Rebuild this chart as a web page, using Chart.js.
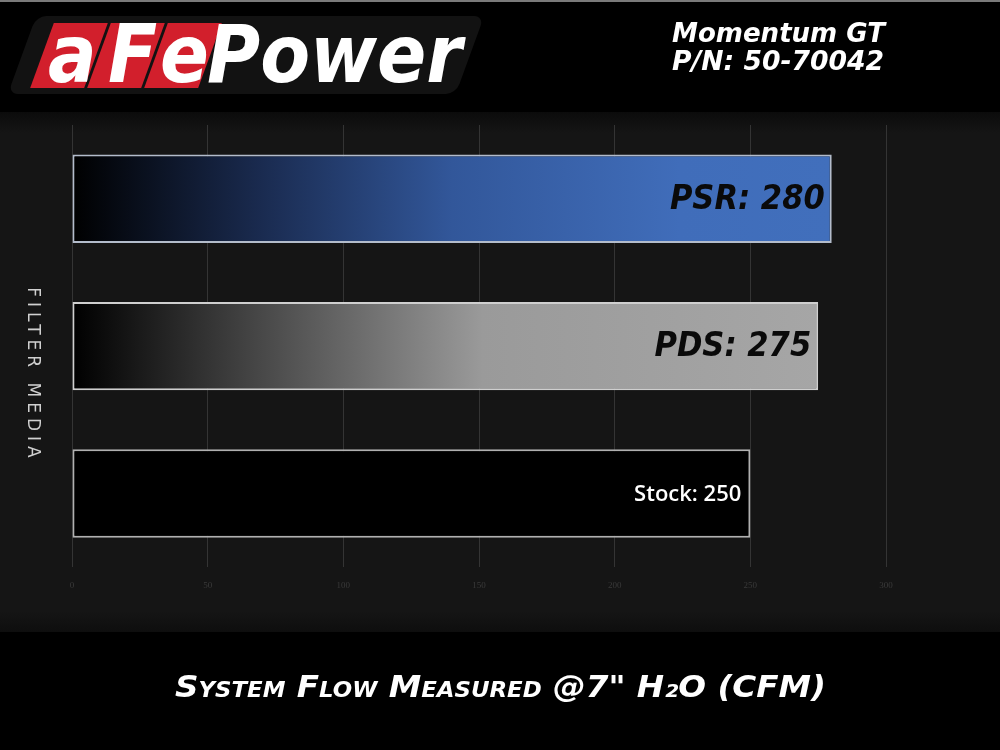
<!DOCTYPE html>
<html>
<head>
<meta charset="utf-8">
<script src="https://cdn.jsdelivr.net/npm/chart.js@4/dist/chart.umd.min.js"></script>
<style>
  html, body { margin:0; padding:0; background:#000; width:1000px; height:750px; overflow:hidden; }
  #wrap { position:relative; width:1000px; height:750px; }
  #c { position:absolute; left:0; top:0; }
  .ov { position:absolute; white-space:nowrap; color:#fff; }
  #topline { position:absolute; left:0; top:0; width:1000px; height:2px; background:#7a7a7a; }
  #logoBg { position:absolute; left:22px; top:16px; width:448px; height:78px; background:#121212; transform:skewX(-20deg); border-radius:10px; }
  .red { position:absolute; top:23px; width:54px; height:65px; background:#d21f2c; transform:skewX(-20deg); }
  .logoTxt { font-family:"DejaVu Sans Condensed","DejaVu Sans",sans-serif; font-weight:bold; font-style:italic; font-size:80px; line-height:80px; }
  .hdr { font-family:"DejaVu Sans",sans-serif; font-weight:bold; font-style:italic; font-size:26px; line-height:30px; transform-origin:left top; }
  #foot { font-family:"DejaVu Sans Condensed","DejaVu Sans",sans-serif; font-weight:bold; font-style:italic; font-variant:small-caps; font-size:30px; line-height:34px; transform-origin:left top; }
</style>
</head>
<body>
<div id="wrap">
  <canvas id="c" width="1000" height="750"></canvas>
  <div id="topline"></div>
  <div id="logoBg"></div>
  <div class="red" style="left:42px"></div>
  <div class="red" style="left:99px"></div>
  <div class="red" style="left:156px"></div>
  <div class="ov logoTxt" id="logoA" style="left:48px;top:15px">a</div>
  <div class="ov logoTxt" id="logoF" style="left:108px;top:15px">F</div>
  <div class="ov logoTxt" id="logoE" style="left:160px;top:15px">e</div>
  <div class="ov logoTxt" id="logoP" style="left:207px;top:15px;transform-origin:left top">Power</div>
  <div class="ov hdr" id="t1" style="left:672px;top:18px">Momentum GT</div>
  <div class="ov hdr" id="t2" style="left:672px;top:46px">P/N: 50-70042</div>
  <div class="ov" id="foot" style="left:175px;top:670px">System Flow Measured @7" H₂O (CFM)</div>
</div>
<script>
// ---- data ----
const categories = ['PSR', 'PDS', 'Stock'];
const flowValues = [280, 275, 250];
const xTickValues = [0, 50, 100, 150, 200, 250, 300];
const yAxisTitle = 'FILTER MEDIA';

// fit overlay text widths
function fitWidth(id, w) {
  const el = document.getElementById(id);
  const r = el.getBoundingClientRect().width;
  el.style.transform = 'scaleX(' + (w / r) + ')';
}
fitWidth('logoP', 255);
fitWidth('t1', 213);
fitWidth('t2', 212);
fitWidth('foot', 651);

const gradStops = [
  [[0, '#000000'], [0.25, '#1a2b50'], [0.5, '#32579a'], [0.8, '#406dba'], [1, '#416fbc']],
  [[0, '#000000'], [0.25, '#474747'], [0.55, '#9a9a9a'], [1, '#a6a6a6']],
  [[0, '#000000'], [1, '#000000']]
];
const borderCols = ['#b3bccb', '#cfcfcf', '#b0b0b0'];

const bgPlugin = {
  id: 'bg',
  beforeDraw(chart) {
    const ctx = chart.ctx;
    ctx.save();
    ctx.fillStyle = '#000';
    ctx.fillRect(0, 0, chart.width, chart.height);
    const g = ctx.createLinearGradient(0, 112, 0, 632);
    g.addColorStop(0, '#0b0b0b');
    g.addColorStop(0.04, '#151515');
    g.addColorStop(0.96, '#151515');
    g.addColorStop(1, '#0e0e0e');
    ctx.fillStyle = g;
    ctx.fillRect(0, 112, chart.width, 520);
    ctx.restore();
  }
};

const labelPlugin = {
  id: 'labels',
  afterDatasetsDraw(chart) {
    const ctx = chart.ctx;
    const meta = chart.getDatasetMeta(0);
    meta.data.forEach((bar, i) => {
      const txt = categories[i] + ': ' + flowValues[i];
      ctx.save();
      ctx.textBaseline = 'middle';
      ctx.textAlign = 'right';
      if (i < 2) {
        ctx.font = 'italic bold 34px "DejaVu Sans"';
        ctx.fillStyle = '#0a0a0a';
        ctx.translate(bar.x - 7, bar.y + 1);
        ctx.scale(0.9, 1);
        ctx.fillText(txt, 0, 0);
      } else {
        ctx.font = '600 22px "Open Sans"';
        ctx.fillStyle = '#ffffff';
        ctx.fillText(txt, bar.x - 9, bar.y + 1);
      }
      ctx.restore();
    });
    // y axis title, reading top to bottom
    ctx.save();
    ctx.translate(32, 372);
    ctx.rotate(Math.PI / 2);
    ctx.font = '17px "DejaVu Sans"';
    ctx.letterSpacing = '5px';
    ctx.fillStyle = '#d0d0d0';
    ctx.textAlign = 'center';
    ctx.textBaseline = 'middle';
    ctx.fillText(yAxisTitle, 3, 0);
    ctx.restore();
  }
};

new Chart(document.getElementById('c'), {
  type: 'bar',
  data: {
    labels: categories,
    datasets: [{
      data: flowValues,
      backgroundColor(ctx) {
        const chart = ctx.chart;
        if (!chart.chartArea) return '#000';
        const xs = chart.scales.x;
        const x0 = xs.getPixelForValue(0);
        const x1 = xs.getPixelForValue(flowValues[ctx.dataIndex]);
        const g = chart.ctx.createLinearGradient(x0, 0, x1, 0);
        gradStops[ctx.dataIndex].forEach(s => g.addColorStop(s[0], s[1]));
        return g;
      },
      borderColor: borderCols,
      borderWidth: 2,
      borderSkipped: false,
      barPercentage: 0.6,
      categoryPercentage: 1
    }]
  },
  options: {
    indexAxis: 'y',
    responsive: false,
    animation: false,
    layout: { padding: { left: 72, right: 114, top: 125, bottom: 146 } },
    plugins: { legend: { display: false }, tooltip: { enabled: false } },
    scales: {
      x: {
        min: 0, max: 300,
        afterBuildTicks(scale) { scale.ticks = xTickValues.map(v => ({ value: v })); },
        ticks: { color: '#3a3a3a', font: { size: 9, family: 'Liberation Serif' }, padding: 13 },
        grid: { color: '#343434', lineWidth: 1, drawTicks: false },
        border: { display: false }
      },
      y: { display: false }
    }
  },
  plugins: [bgPlugin, labelPlugin]
});
</script>
</body>
</html>
